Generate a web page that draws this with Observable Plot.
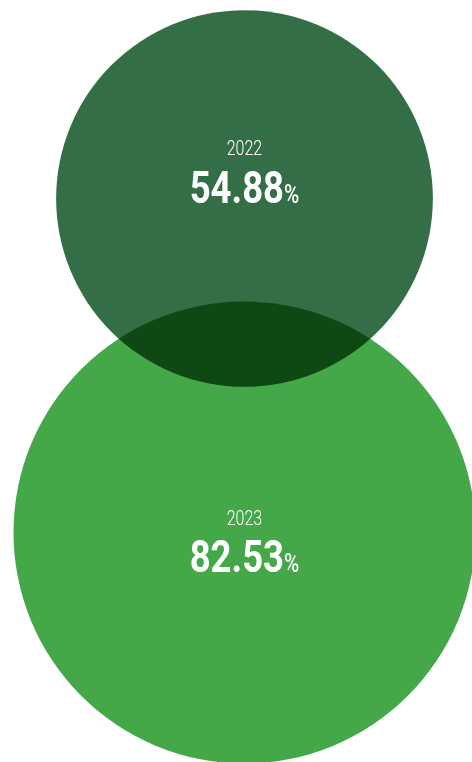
<!DOCTYPE html>
<html><head><meta charset="utf-8">
<script src="https://cdn.jsdelivr.net/npm/d3@7"></script>
<script src="https://cdn.jsdelivr.net/npm/@observablehq/plot@0.6"></script>
<style>
html,body{margin:0;padding:0;background:#fff;overflow:hidden}
#chart svg{overflow:hidden;display:block}
</style>
</head><body><div id="chart"></div>
<script>
const years = ["2022", "2023"];
const values = [54.88, 82.53];
const colors = ["#336e47", "#44a848"];
const data = years.map((year, i) => ({year, value: values[i]}));

const fontFamily = "Roboto, 'Noto Sans', sans-serif";

const chart = Plot.plot({
  width: 472,
  height: 762,
  marginTop: 0, marginBottom: 0, marginRight: 0, marginLeft: 16,
  style: {background: "transparent", overflow: "hidden"},
  x: {axis: null},
  y: {type: "point", domain: years, range: [198, 532], padding: 0, axis: null},
  r: {range: [0, 231], domain: [0, d3.max(values)]},
  color: {domain: years, range: colors},
  marks: [
    Plot.dot(data, {filter: d => d.year === "2023", y: "year", r: "value", fill: "year", frameAnchor: "middle"}),
    Plot.dot(data, {filter: d => d.year === "2022", y: "year", r: "value", fill: "year", frameAnchor: "middle", mixBlendMode: "multiply"}),
    // year labels
    Plot.text(data, {filter: d => d.year === "2022", y: "year", text: "year", frameAnchor: "middle", dy: -50,
      fill: "white", fontSize: 20, fontWeight: 300, fontFamily, className: "yr"}),
    Plot.text(data, {filter: d => d.year === "2023", y: "year", text: "year", frameAnchor: "middle", dy: -14,
      fill: "white", fontSize: 20, fontWeight: 300, fontFamily, className: "yr"}),
    // values
    Plot.text(data, {filter: d => d.year === "2022", y: "year", text: d => d.value.toFixed(2), frameAnchor: "middle", dy: -10,
      fill: "white", fontSize: 44, fontWeight: 700, fontFamily, className: "val"}),
    Plot.text(data, {filter: d => d.year === "2023", y: "year", text: d => d.value.toFixed(2), frameAnchor: "middle", dy: 25,
      fill: "white", fontSize: 44, fontWeight: 700, fontFamily, className: "val"})
  ]
});

const svg = d3.select(chart);
svg.selectAll("g.val text").each(function() {
  const t = d3.select(this);
  t.append("tspan").attr("font-size", 25).attr("font-weight", 500).text("%");
  t.attr("transform", (t.attr("transform") || "") + " scale(0.83,1)");
});
svg.selectAll("g.yr text").each(function() {
  const t = d3.select(this);
  t.attr("transform", (t.attr("transform") || "") + " scale(0.8,1)");
});

document.getElementById("chart").appendChild(chart);
</script>
</body></html>
